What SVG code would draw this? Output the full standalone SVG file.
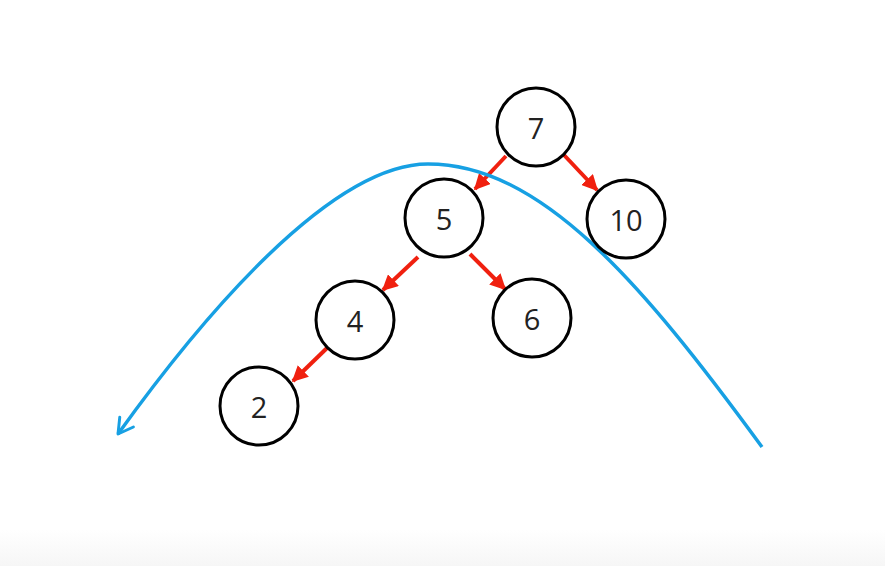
<svg xmlns="http://www.w3.org/2000/svg" width="885" height="566" viewBox="0 0 885 566">
<style>
.node circle{fill:#fff;stroke:#000;stroke-width:3}
.node text{font-family:"Open Sans","Noto Sans",sans-serif;font-size:29px;fill:#222;text-anchor:middle;dominant-baseline:central}
.edge{stroke:#f0200f;stroke-width:4;fill:none;marker-end:url(#ra)}
.curve{stroke:#17a0e3;stroke-width:3.5;fill:none;marker-end:url(#ba)}
</style>
<defs>
<linearGradient id="bg" x1="0" y1="0" x2="0" y2="1">
<stop offset="0" stop-color="#fff"/>
<stop offset="1" stop-color="#f6f6f6"/>
</linearGradient>
<marker id="ra" viewBox="0 0 10 10" refX="9" refY="5" markerWidth="4" markerHeight="4" orient="auto" markerUnits="strokeWidth">
<path d="M0,0 L10,5 L0,10 z" fill="#f0200f"/>
</marker>
<marker id="ba" viewBox="0 0 10 10" refX="8" refY="5" markerWidth="6" markerHeight="6" orient="auto" markerUnits="strokeWidth">
<path d="M1,1 L8,5 L1,9" fill="none" stroke="#17a0e3" stroke-width="1.4" stroke-linecap="round" stroke-linejoin="round"/>
</marker>
</defs>
<rect width="885" height="566" fill="#fff"/>
<rect y="530" width="885" height="36" fill="url(#bg)"/>
<g id="connectors">
<path class="edge" d="M506,156 L475,189"/>
<path class="edge" d="M564,155 L597,190"/>
<path class="edge" d="M418,257 L383,290"/>
<path class="edge" d="M470,254 L505,289"/>
<path class="edge" d="M327,348 L293,381"/>
<path class="curve" d="M762,447 C640,280 540,164 428,164 C330,164 200,320 118,434"/>
</g>
<g id="n7" class="node"><circle cx="536" cy="127" r="39"/><text x="536" y="127">7</text></g>
<g id="n5" class="node"><circle cx="444" cy="218" r="39"/><text x="444" y="218">5</text></g>
<g id="n10" class="node"><circle cx="626" cy="219" r="39"/><text x="626" y="219">10</text></g>
<g id="n4" class="node"><circle cx="355" cy="320" r="39"/><text x="355" y="320">4</text></g>
<g id="n6" class="node"><circle cx="532" cy="318" r="39"/><text x="532" y="318">6</text></g>
<g id="n2" class="node"><circle cx="259" cy="406" r="39"/><text x="259" y="406">2</text></g>
</svg>
